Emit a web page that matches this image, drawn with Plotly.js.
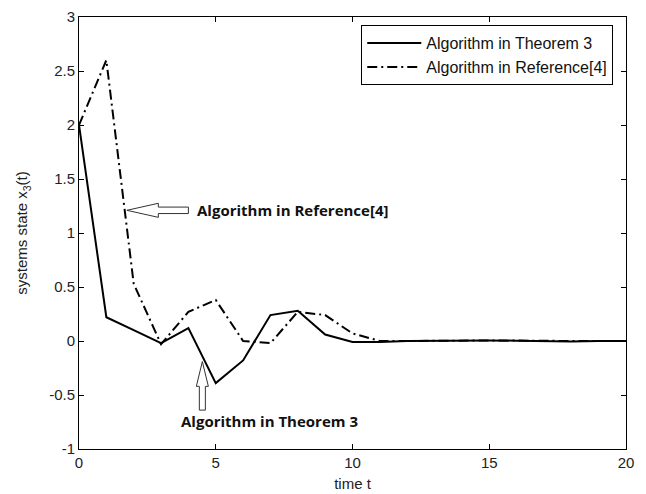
<!DOCTYPE html>
<html><head><meta charset="utf-8">
<script src="https://cdn.plot.ly/plotly-3.0.1.min.js"></script>
<style>html,body{margin:0;padding:0;background:#fff}#chart{width:646px;height:494px}</style>
</head><body><div id="chart"></div>
<script>
const timeT = [0,1,2,3,4,5,6,7,8,9,10,11,12,13,14,15,16,17,18,19,20];
const theorem3 = [2, 0.22, 0.10, -0.02, 0.12, -0.39, -0.18, 0.24, 0.28, 0.06, -0.01, -0.01, 0, 0.004, 0.005, 0.005, 0.003, -0.004, -0.004, 0, 0];
const reference4 = [2, 2.6, 0.53, -0.03, 0.27, 0.38, 0.0, -0.02, 0.27, 0.24, 0.07, 0.0, 0, 0.004, 0.005, 0.005, 0.004, 0, 0, 0, 0];
const seriesNames = ["Algorithm in Theorem 3", "Algorithm in Reference[4]"];
const xTicks = [0,5,10,15,20];
const xTickText = ["0","5","10","15","20"];
const yTicks = [-1,-0.5,0,0.5,1,1.5,2,2.5,3];
const yTickText = ["-1","-0.5","0","0.5","1","1.5","2","2.5","3"];

const traces = [
  {x: timeT, y: theorem3, name: seriesNames[0], mode: "lines", line: {color: "#000", width: 2}},
  {x: timeT, y: reference4, name: seriesNames[1], mode: "lines", line: {color: "#000", width: 2, dash: "10px,4px,2px,4px"}}
];

// hollow block arrows (annotation graphics)
function hArrow(tipX, y, baseX, endX, hh, sh) {
  return `M${tipX},${y} L${baseX},${y+hh} L${baseX},${y+sh} L${endX},${y+sh} L${endX},${y-sh} L${baseX},${y-sh} L${baseX},${y-hh} Z`;
}
function vArrow(x, tipY, baseY, endY, hw, sw) {
  return `M${x},${tipY} L${x+hw},${baseY} L${x+sw},${baseY} L${x+sw},${endY} L${x-sw},${endY} L${x-sw},${baseY} L${x-hw},${baseY} Z`;
}

const layout = {
  width: 646, height: 494,
  margin: {l: 79, r: 20, t: 17, b: 45},
  paper_bgcolor: "#fff", plot_bgcolor: "#fff",
  font: {family: "Liberation Sans, Arial, sans-serif", color: "#222", size: 14},
  showlegend: true,
  legend: {x: 0.516, y: 0.981, xanchor: "left", yanchor: "top", bgcolor: "#fff",
           bordercolor: "#000", borderwidth: 1, font: {size: 16, color: "#111"},
           itemwidth: 54, tracegroupgap: 0},
  xaxis: {range: [0, 20], tickvals: xTicks, ticktext: xTickText, ticks: "inside", ticklen: 5, tickcolor: "#000",
          showline: true, linecolor: "#000", linewidth: 1, mirror: "ticks", showgrid: false, zeroline: false,
          tickfont: {size: 15}, title: {text: "time t", font: {size: 15}, standoff: 8}},
  yaxis: {range: [-1, 3], tickvals: yTicks, ticktext: yTickText, ticks: "inside", ticklen: 5, tickcolor: "#000",
          showline: true, linecolor: "#000", linewidth: 1, mirror: "ticks", showgrid: false, zeroline: false,
          tickfont: {size: 15}, title: {text: "systems state x<sub>3</sub>(t)", font: {size: 15}, standoff: 17}},
  shapes: [
    {type: "path", xref: "x", yref: "y", path: hArrow(1.75, 1.21, 2.9, 4.0, 0.065, 0.03),
     line: {color: "#333", width: 1}, fillcolor: "#fff"},
    {type: "path", xref: "x", yref: "y", path: vArrow(4.51, -0.19, -0.42, -0.64, 0.22, 0.11),
     line: {color: "#333", width: 1}, fillcolor: "#fff"}
  ],
  annotations: [
    {x: 4.24, y: 1.21, xref: "x", yref: "y", xanchor: "left", yanchor: "middle", showarrow: false,
     text: "<b>Algorithm in Reference[4]</b>", font: {family: "Open Sans, sans-serif", size: 15, color: "#111"}},
    {x: 6.95, y: -0.74, xref: "x", yref: "y", xanchor: "center", yanchor: "middle", showarrow: false,
     text: "<b>Algorithm in Theorem 3</b>", font: {family: "Open Sans, sans-serif", size: 15, color: "#111"}}
  ]
};
Plotly.newPlot("chart", traces, layout, {displayModeBar: false, staticPlot: true});
</script></body></html>
